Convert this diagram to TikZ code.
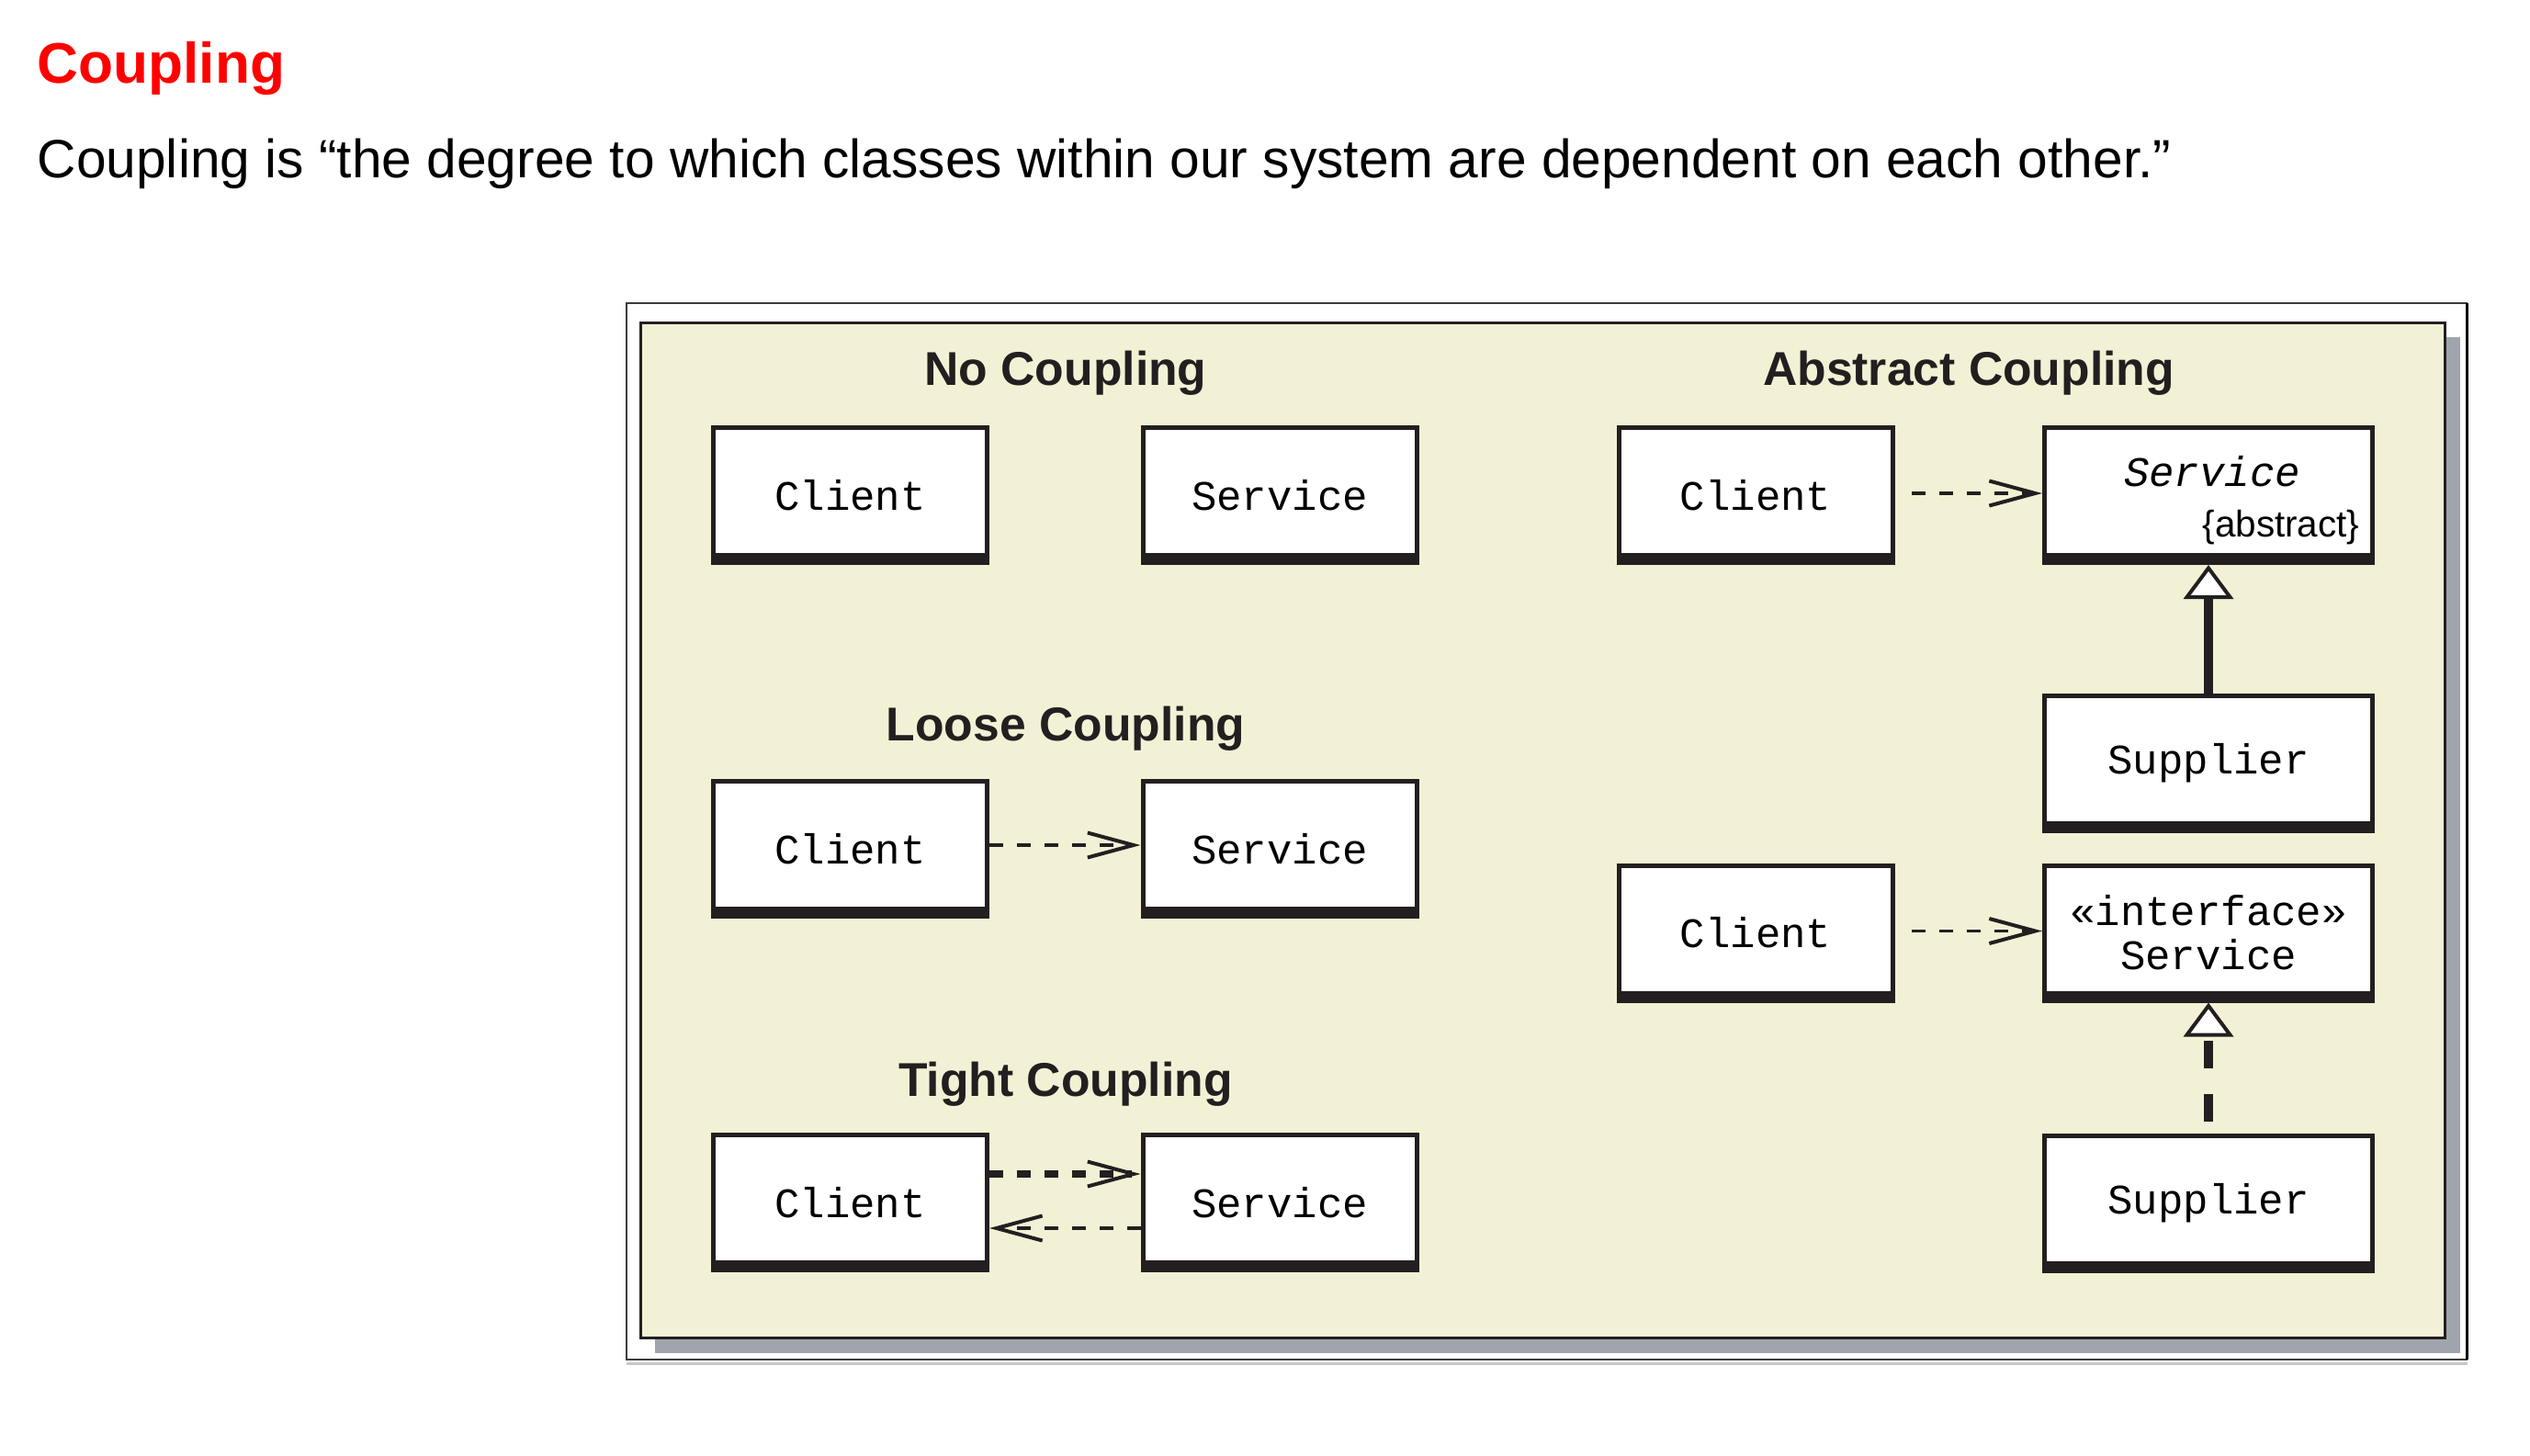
\documentclass[tikz,border=0pt]{standalone}
\usepackage{fontspec}
\setmainfont{Liberation Sans}
\setmonofont{Liberation Mono}
\usetikzlibrary{arrows.meta}

\definecolor{panelfill}{HTML}{F3F1D5}
\definecolor{shadowgray}{HTML}{A0A5AC}
\definecolor{boxline}{HTML}{231F20}
\definecolor{framegray}{HTML}{3C3C3C}

\tikzset{
  classbox/.style={draw=boxline, fill=white, line width=0.05cm, inner sep=0pt,
    minimum width=2.98cm, minimum height=1.47cm,
    font=\ttfamily\fontsize{13}{13.6}\selectfont},
  widebox/.style={classbox, minimum width=3.57cm},
  heading/.style={anchor=base, inner sep=0pt, text=boxline,
    font=\fontsize{14.7}{17}\selectfont\bfseries},
  dep/.style={boxline, line width=0.035cm, dash pattern=on 0.15cm off 0.15cm,
    -{Straight Barb[length=0.5cm, width=0.27cm, line width=0.04cm]}},
  inherit/.style={boxline, line width=0.1cm,
    -{Triangle[length=0.37cm, width=0.54cm, fill=white, line width=0.04cm]}}
}

\begin{document}
\begin{tikzpicture}
			%%%%% START %%%%%
			\useasboundingbox (0, 0) rectangle (27.54, -15.84);
			
			\node[anchor=base west, inner sep=0pt, text=red, font=\fontsize{17.7}{20}\selectfont\bfseries] (title) at (0.40, -0.90) {Coupling};
			\node[anchor=base west, inner sep=0pt, font=\fontsize{16.7}{19}\selectfont] (intro) at (0.40, -1.93) {Coupling is “the degree to which classes within our system are dependent on each other.”};
			
			% frame, shadow and panel
			\draw[black!22, line width=0.03cm] (6.82, -14.84) -- (26.86, -14.84);
			\draw[framegray, line width=0.025cm] (6.82, -3.30) rectangle (26.85, -14.80);
			\draw[black, line width=0.03cm] (26.85, -3.30) -- (26.85, -14.80);
			\fill[shadowgray] (7.13, -3.67) rectangle (26.78, -14.73);
			\draw[boxline, line width=0.03cm, fill=panelfill] (6.97, -3.51) rectangle (26.61, -14.56);
			
			% headings
			\node[heading] (hnone) at (11.60, -4.19) {No Coupling};
			\node[heading] (hloose) at (11.60, -8.06) {Loose Coupling};
			\node[heading] (htight) at (11.60, -11.93) {Tight Coupling};
			\node[heading] (habs) at (21.43, -4.19) {Abstract Coupling};
			
			% no coupling
			\node[classbox] (ncc) at (9.255, -5.39) {Client};
			\node[classbox] (ncs) at (13.93, -5.39) {Service};
			
			% loose coupling
			\node[classbox] (lcc) at (9.255, -9.24) {Client};
			\node[classbox] (lcs) at (13.93, -9.24) {Service};
			
			% tight coupling
			\node[classbox] (tcc) at (9.255, -13.09) {Client};
			\node[classbox] (tcs) at (13.93, -13.09) {Service};
			
			% abstract coupling
			\node[classbox] (acc) at (19.11, -5.39) {Client};
			\node[widebox] (acs) at (24.04, -5.39) {};
			\node[anchor=base, inner sep=0pt, font=\ttfamily\itshape\fontsize{13}{15}\selectfont] (acsname) at (24.08, -5.29) {Service};
			\node[anchor=base east, inner sep=0pt, font=\fontsize{11.5}{13}\selectfont] (acstag) at (25.69, -5.84) {\{abstract\}};
			\node[widebox] (asup) at (24.04, -8.305) {Supplier};
			
			\node[classbox] (icc) at (19.11, -10.155) {Client};
			\node[widebox, align=center] (ics) at (24.04, -10.155) {«interface»\\Service};
			\node[widebox] (isup) at (24.04, -13.095) {Supplier};
			
			% heavy lower edge of every box
			\foreach \n in {ncc, ncs, lcc, lcs, tcc, tcs, acc, acs, asup, icc, ics, isup}
				\fill[boxline] (\n.south west) rectangle ([yshift=0.13cm]\n.south east);
			
			% dependencies
			\draw[dep] ([yshift=0.04cm]lcc.east) -- ([yshift=0.04cm]lcs.west);
			\draw[dep, line width=0.08cm] ([yshift=0.31cm]tcc.east) -- ([yshift=0.31cm]tcs.west);
			\draw[dep] ([yshift=-0.28cm]tcs.west) -- ([yshift=-0.28cm]tcc.east);
			\draw[dep, shorten <=0.18cm] ([yshift=0.02cm]acc.east) -- ([yshift=0.02cm]acs.west);
			\draw[dep, shorten <=0.18cm] ([yshift=0.02cm]icc.east) -- ([yshift=0.02cm]ics.west);
			
			% generalization and realization
			\draw[inherit] (asup.north) -- (acs.south);
			\draw[inherit, dash pattern=on 0.3cm off 0.28cm, dash phase=0.45cm] (isup.north) -- (ics.south);
			
			%%%%% END %%%%%
		\end{tikzpicture}
\end{document}
